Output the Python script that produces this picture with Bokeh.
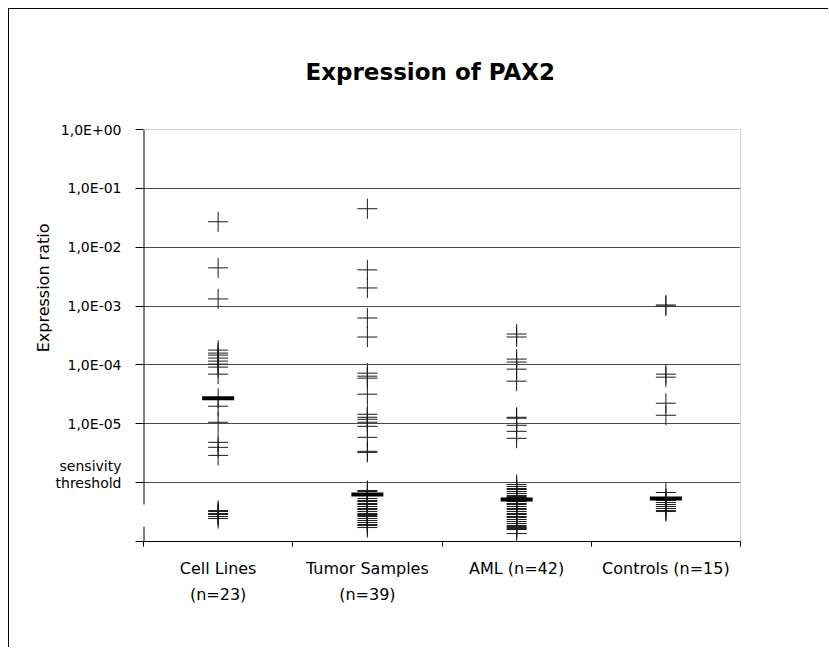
import math
from bokeh.plotting import figure
from bokeh.models import Range1d, FixedTicker, ColumnDataSource, Span, Title
from bokeh.embed import file_html
from bokeh.resources import INLINE

# ---------------- data ----------------
categories = ["Cell Lines", "Tumor Samples", "AML", "Controls"]
n_samples = [23, 39, 42, 15]

# log10(expression ratio); values below -6 lie in the "below sensitivity threshold" band
cell_lines = [-1.567, -2.351, -2.879, -3.748, -3.799, -3.833, -3.884, -3.935, -3.986,
              -4.037, -4.157, -4.566, -4.702, -4.974, -5.315, -5.400, -5.537,
              -6.474, -6.491, -6.525, -6.542, -6.576, -6.610]
tumor_samples = [-1.346, -2.385, -2.692, -3.203, -3.526, -4.140, -4.191, -4.225, -4.497,
                 -4.838, -4.889, -4.923, -4.974, -5.043, -5.230, -5.468, -5.486,
                 -6.133, -6.150, -6.201, -6.269, -6.303, -6.320, -6.354, -6.371, -6.405,
                 -6.440, -6.457, -6.491, -6.525, -6.542, -6.559, -6.576, -6.610, -6.644,
                 -6.678, -6.712, -6.729, -6.763]
aml = [-3.475, -3.526, -3.901, -3.952, -4.072, -4.276, -4.889, -4.906, -5.026, -5.128,
       -5.247, -6.031, -6.065, -6.099, -6.116, -6.150, -6.184, -6.218, -6.235, -6.252,
       -6.269, -6.303, -6.320, -6.354, -6.371, -6.405, -6.440, -6.457, -6.491, -6.525,
       -6.542, -6.576, -6.593, -6.627, -6.661, -6.695, -6.729, -6.746, -6.763, -6.780,
       -6.797, -6.865]
controls = [-2.981, -2.998, -4.157, -4.208, -4.651, -4.855, -6.167, -6.269, -6.303,
            -6.337, -6.371, -6.405, -6.440, -6.474, -6.491]
medians = [-4.566, -6.201, -6.286, -6.269]

y_ticks = [0, -1, -2, -3, -4, -5, -6, -7]
y_tick_labels = ["1,0E+00", "1,0E-01", "1,0E-02", "1,0E-03", "1,0E-04", "1,0E-05",
                 "sensivity\nthreshold\n", ""]
x_tick_labels = ["Cell Lines\n(n=23)", "Tumor Samples\n(n=39)", "AML (n=42)", "Controls (n=15)"]
title_text = "Expression of PAX2"
y_title = "Expression ratio"

# ---------------- build ----------------
series = [cell_lines, tumor_samples, aml, controls]
xs, ys = [], []
for i, vals in enumerate(series):
    xs += [i + 0.5] * len(vals)
    ys += vals
src = ColumnDataSource(dict(x=xs, y=ys))
centers = [i + 0.5 for i in range(len(categories))]
med_src = ColumnDataSource(dict(x=centers, y=medians))

FONT = "DejaVu Sans"

p = figure(width=820, height=639, x_range=Range1d(0, len(categories)), y_range=Range1d(-7, 0),
           output_backend="svg", toolbar_location=None,
           min_border_left=134, min_border_right=89, min_border_top=120, min_border_bottom=107)
p.styles = {"margin-left": "8px", "margin-top": "8px",
            "border-left": "1px solid #000000", "border-top": "1px solid #000000"}
p.outline_line_color = None
p.background_fill_color = "white"
p.border_fill_color = "white"

# title
p.title.text = title_text
p.title.align = "left"
p.title.offset = 162
p.title.standoff = 90
p.title.text_font = FONT
p.title.text_font_style = "bold"
p.title.text_font_size = "23px"
p.title.text_color = "black"

# grid
p.xgrid.visible = False
p.ygrid.ticker = FixedTicker(ticks=[-1, -2, -3, -4, -5, -6])
p.ygrid.grid_line_color = "#4a4a4a"
p.ygrid.grid_line_width = 1

# plot-area border (top and right)
p.add_layout(Span(location=0, dimension="width", line_color="#a6a6a6", line_width=1))
p.add_layout(Span(location=len(categories), dimension="height", line_color="#a6a6a6", line_width=1))

# y axis
p.yaxis.ticker = FixedTicker(ticks=y_ticks)
p.yaxis.major_label_overrides = {t: l for t, l in zip(y_ticks, y_tick_labels)}
p.yaxis.major_tick_out = 8
p.yaxis.major_tick_in = 0
p.yaxis.minor_tick_line_color = None
p.yaxis.major_tick_line_color = "black"
p.yaxis.axis_line_color = None
p.yaxis.major_label_text_font = FONT
p.yaxis.major_label_text_font_size = "14px"
p.yaxis.major_label_text_line_height = 1.05
p.yaxis.major_label_text_color = "black"
p.yaxis.major_label_standoff = 14

# y title
p.add_layout(Title(text=y_title, align="right", offset=94, standoff=0, text_font=FONT,
                   text_font_size="16px", text_font_style="normal", text_color="black"), "left")

# broken y-axis line
p.segment(x0=[0, 0], y0=[0, -6.746], x1=[0, 0], y1=[-6.371, -7],
          line_color="black", line_width=2)

# x axis: labels at category centres, tick marks at category boundaries
p.xaxis.ticker = FixedTicker(ticks=centers, minor_ticks=list(range(len(categories) + 1)))
p.xaxis.major_label_overrides = {c: l for c, l in zip(centers, x_tick_labels)}
p.xaxis.major_tick_line_color = None
p.xaxis.major_tick_out = 0
p.xaxis.major_tick_in = 0
p.xaxis.minor_tick_out = 5
p.xaxis.minor_tick_in = 0
p.xaxis.minor_tick_line_color = "black"
p.xaxis.axis_line_color = "black"
p.xaxis.major_label_text_font = FONT
p.xaxis.major_label_text_font_size = "16px"
p.xaxis.major_label_text_line_height = 1.4
p.xaxis.major_label_text_color = "black"
p.xaxis.major_label_standoff = 12

# data markers
p.scatter(x="x", y="y", source=src, marker="cross", size=20,
          line_color="#1a1a1a", line_width=1)
p.scatter(x="x", y="y", source=med_src, marker="dash", size=32,
          line_color="black", line_width=4)

open("out.html", "w").write(file_html(p, INLINE))
